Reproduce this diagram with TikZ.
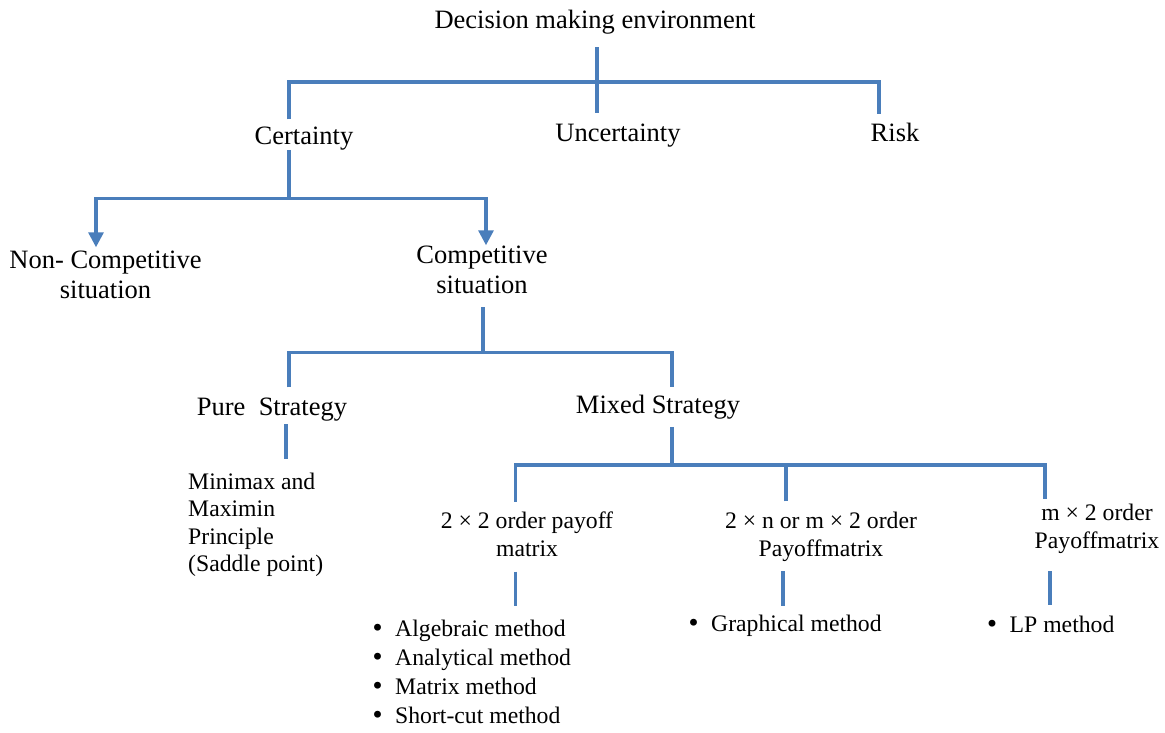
\documentclass[tikz,border=0pt]{standalone}
\usepackage{fontspec}
\setmainfont{Liberation Serif}
\newfontfamily\dejavu{DejaVu Sans}
\usetikzlibrary{arrows.meta}
\definecolor{branch}{HTML}{4A7EBB}
\tikzset{
  conn/.style={draw=branch, line width=3.2pt},
  arr/.style={conn, -{Triangle[width=15pt,length=15pt]}},
  big/.style={font=\fontsize{26.5}{30}\selectfont, inner sep=0pt, align=center, anchor=base},
  small/.style={font=\fontsize{23.7}{28}\selectfont, inner sep=0pt, align=center, anchor=base},
  items/.style={font=\fontsize{23.7}{29}\selectfont, inner sep=0pt, align=left, anchor=base west},
}
\newcommand{\itm}{\makebox[24.5pt][l]{\dejavu •}}

\begin{document}
\begin{tikzpicture}[x=1pt,y=-1pt]
  \useasboundingbox (0,0) rectangle (1165,732);
  % environment
  \node[big] (dme) at (595,28.5) {Decision making environment};
  \node[big] (cer) at (304,144) {Certainty};
  \node[big] (unc) at (618,141.7) {Uncertainty};
  \node[big] (risk) at (895,141) {Risk};
  \coordinate (hub0) at (597,82);
  \draw[conn] ([xshift=2pt,yshift=-13pt]dme.south) -- ([xshift=-21pt,yshift=11pt]unc.north);
  \draw[conn] ([xshift=-15pt,yshift=7pt]cer.north) |- (hub0) -| ([xshift=-16pt,yshift=8pt]risk.north);

  % situations (base = last line)
  \node[big] (ncs) at (105.5,298) {Non- Competitive\\situation};
  \node[big] (comp) at (482,293) {Competitive\\situation};
  \coordinate (hub1) at (289,198.5);
  \draw[conn] ([xshift=-15pt]cer.south) -- (hub1);
  \draw[arr] (hub1) -| ([xshift=-9.5pt,yshift=3pt]ncs.north);
  \draw[arr] (hub1) -| ([xshift=4pt]comp.north);

  % strategies
  \node[big] (pure) at (272,415) {Pure\ \ Strategy};
  \node[big] (mix) at (658,413) {Mixed Strategy};
  \coordinate (hub2) at (483,352.5);
  \draw[conn] ([xshift=1pt,yshift=-14pt]comp.south) -- (hub2);
  \draw[conn] ([xshift=17pt,yshift=10pt]pure.north) |- (hub2) -| ([xshift=14pt,yshift=7pt]mix.north);

  % pure strategy
  \node[small, align=left, anchor=base west, font=\fontsize{23.7}{27.5}\selectfont] (mmp) at (188,571.7)
    {Minimax and\\Maximin\\Principle\\(Saddle point)};
  \draw[conn] ([xshift=14pt,yshift=-3.5pt]pure.south) -- ++(0,34.5);

  % mixed strategy
  \node[small] (pay2) at (527,556.7) {2 × 2 order payoff\\matrix};
  \node[small] (payn) at (821,556) {2 × n or m × 2 order\\Payoffmatrix};
  \node[small] (paym) at (1097,548.3) {m × 2 order\\Payoffmatrix};
  \coordinate (hub3) at (672,465);
  \draw[conn] ([xshift=14pt,yshift=-8pt]mix.south) -- (hub3);
  \draw[conn] ([xshift=-11.5pt,yshift=10pt]pay2.north) |- (hub3) -| ([xshift=-52pt,yshift=5pt]paym.north);
  \draw[conn] ([xshift=-35pt,yshift=10pt]payn.north) -- ++(0,-37);

  % methods
  \node[items] (lst1) at (370.5,723)
    {\itm Algebraic method\\\itm Analytical method\\\itm Matrix method\\\itm Short-cut method};
  \node[items] (lst2) at (686.5,631.7) {\itm Graphical method};
  \node[items] (lst3) at (985,632) {\itm LP method};
  \draw[conn] ([xshift=-11.3pt,yshift=-14.5pt]pay2.south) -- ++(0,34.5);
  \draw[conn] ([xshift=-38pt,yshift=-10pt]payn.south) -- ++(0,34.5);
  \draw[conn] ([xshift=-47pt,yshift=-17.5pt]paym.south) -- ++(0,34);
\end{tikzpicture}
\end{document}
